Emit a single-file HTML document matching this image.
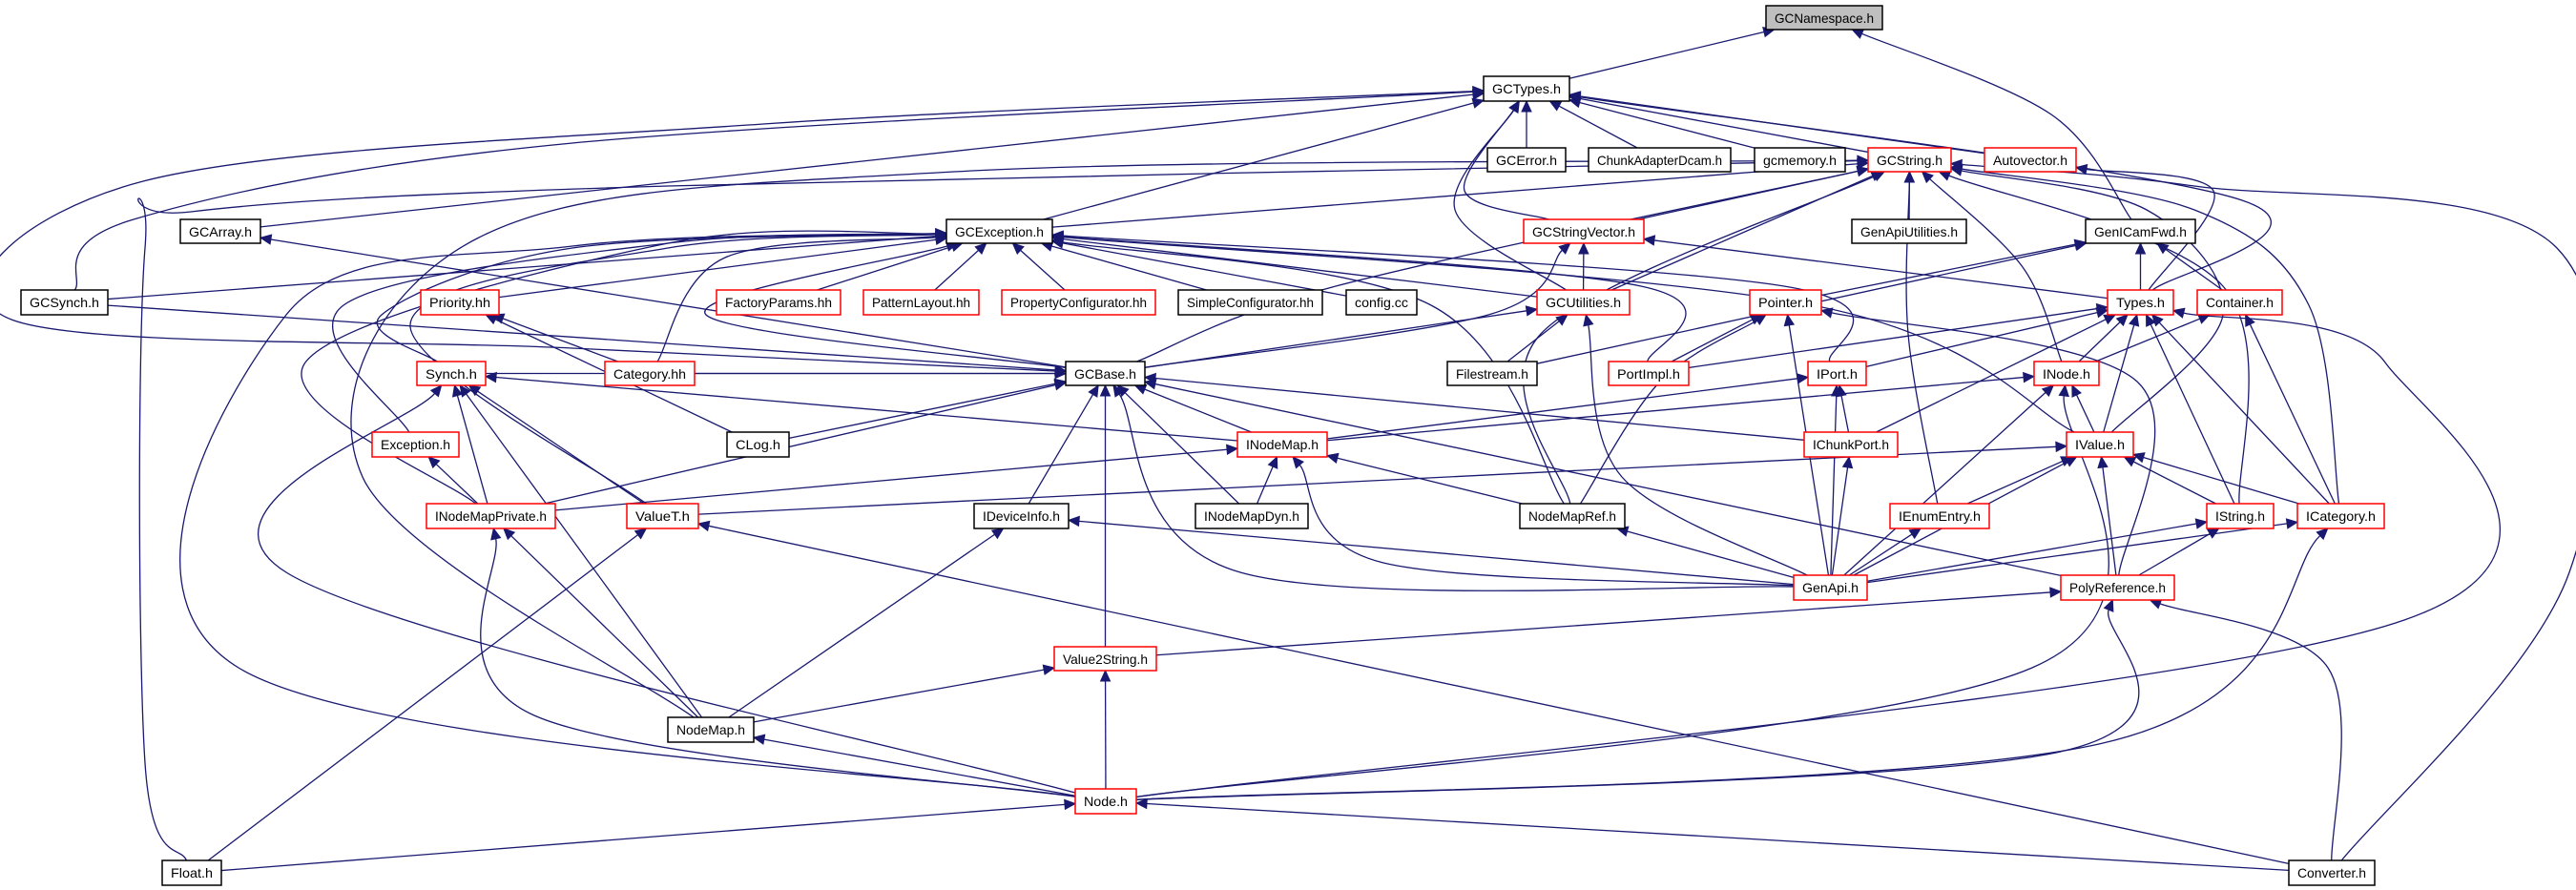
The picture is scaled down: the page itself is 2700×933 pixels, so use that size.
<!DOCTYPE html>
<html><head><meta charset="utf-8"><style>
html,body{margin:0;padding:0;background:#fff;}
svg{display:block;}
text{font-family:"Liberation Sans",sans-serif;font-size:14px;fill:#000;}
</style></head><body>
<svg id="g" width="2700" height="933" viewBox="0 0 2700 933" xmlns="http://www.w3.org/2000/svg">
<g id="edges" fill="none" stroke="#191970" stroke-width="1.3"></g>
<g id="heads" fill="#191970" stroke="#191970"></g>
<g id="nodes" stroke-width="1.5">
<rect x="1851" y="6" width="122" height="25" fill="#bfbfbf" stroke="#000"/><text x="1912" y="24" text-anchor="middle" textLength="104" lengthAdjust="spacingAndGlyphs">GCNamespace.h</text>
<rect x="1555" y="80" width="90" height="26" fill="#fff" stroke="#000"/><text x="1600" y="98" text-anchor="middle" textLength="72" lengthAdjust="spacingAndGlyphs">GCTypes.h</text>
<rect x="1559" y="155" width="82" height="25" fill="#fff" stroke="#000"/><text x="1600" y="173" text-anchor="middle" textLength="64" lengthAdjust="spacingAndGlyphs">GCError.h</text>
<rect x="1665" y="155" width="149" height="25" fill="#fff" stroke="#000"/><text x="1739.5" y="173" text-anchor="middle" textLength="131" lengthAdjust="spacingAndGlyphs">ChunkAdapterDcam.h</text>
<rect x="1839" y="155" width="95" height="25" fill="#fff" stroke="#000"/><text x="1886.5" y="173" text-anchor="middle" textLength="77" lengthAdjust="spacingAndGlyphs">gcmemory.h</text>
<rect x="1958" y="155" width="87" height="25" fill="#fff" stroke="#f00"/><text x="2001.5" y="173" text-anchor="middle" textLength="69" lengthAdjust="spacingAndGlyphs">GCString.h</text>
<rect x="2080" y="155" width="96" height="25" fill="#fff" stroke="#f00"/><text x="2128" y="173" text-anchor="middle" textLength="78" lengthAdjust="spacingAndGlyphs">Autovector.h</text>
<rect x="189" y="230" width="84" height="25" fill="#fff" stroke="#000"/><text x="231" y="248" text-anchor="middle" textLength="66" lengthAdjust="spacingAndGlyphs">GCArray.h</text>
<rect x="992" y="230" width="111" height="25" fill="#fff" stroke="#000"/><text x="1047.5" y="248" text-anchor="middle" textLength="93" lengthAdjust="spacingAndGlyphs">GCException.h</text>
<rect x="1597" y="230" width="126" height="25" fill="#fff" stroke="#f00"/><text x="1660" y="248" text-anchor="middle" textLength="108" lengthAdjust="spacingAndGlyphs">GCStringVector.h</text>
<rect x="1941" y="230" width="120" height="25" fill="#fff" stroke="#000"/><text x="2001" y="248" text-anchor="middle" textLength="102" lengthAdjust="spacingAndGlyphs">GenApiUtilities.h</text>
<rect x="2186" y="230" width="115" height="25" fill="#fff" stroke="#000"/><text x="2243.5" y="248" text-anchor="middle" textLength="97" lengthAdjust="spacingAndGlyphs">GenICamFwd.h</text>
<rect x="22" y="304" width="91" height="26" fill="#fff" stroke="#000"/><text x="67.5" y="322" text-anchor="middle" textLength="73" lengthAdjust="spacingAndGlyphs">GCSynch.h</text>
<rect x="441" y="304" width="82" height="26" fill="#fff" stroke="#f00"/><text x="482" y="322" text-anchor="middle" textLength="64" lengthAdjust="spacingAndGlyphs">Priority.hh</text>
<rect x="751" y="304" width="130" height="26" fill="#fff" stroke="#f00"/><text x="816" y="322" text-anchor="middle" textLength="112" lengthAdjust="spacingAndGlyphs">FactoryParams.hh</text>
<rect x="905" y="304" width="121" height="26" fill="#fff" stroke="#f00"/><text x="965.5" y="322" text-anchor="middle" textLength="103" lengthAdjust="spacingAndGlyphs">PatternLayout.hh</text>
<rect x="1050" y="304" width="161" height="26" fill="#fff" stroke="#f00"/><text x="1130.5" y="322" text-anchor="middle" textLength="143" lengthAdjust="spacingAndGlyphs">PropertyConfigurator.hh</text>
<rect x="1235" y="304" width="151" height="26" fill="#fff" stroke="#000"/><text x="1310.5" y="322" text-anchor="middle" textLength="133" lengthAdjust="spacingAndGlyphs">SimpleConfigurator.hh</text>
<rect x="1411" y="304" width="74" height="26" fill="#fff" stroke="#000"/><text x="1448" y="322" text-anchor="middle" textLength="56" lengthAdjust="spacingAndGlyphs">config.cc</text>
<rect x="1611" y="304" width="97" height="26" fill="#fff" stroke="#f00"/><text x="1659.5" y="322" text-anchor="middle" textLength="79" lengthAdjust="spacingAndGlyphs">GCUtilities.h</text>
<rect x="1834" y="304" width="75" height="26" fill="#fff" stroke="#f00"/><text x="1871.5" y="322" text-anchor="middle" textLength="57" lengthAdjust="spacingAndGlyphs">Pointer.h</text>
<rect x="2209" y="304" width="69" height="26" fill="#fff" stroke="#f00"/><text x="2243.5" y="322" text-anchor="middle" textLength="51" lengthAdjust="spacingAndGlyphs">Types.h</text>
<rect x="2303" y="304" width="89" height="26" fill="#fff" stroke="#f00"/><text x="2347.5" y="322" text-anchor="middle" textLength="71" lengthAdjust="spacingAndGlyphs">Container.h</text>
<rect x="437" y="379" width="72" height="25" fill="#fff" stroke="#f00"/><text x="473" y="397" text-anchor="middle" textLength="54" lengthAdjust="spacingAndGlyphs">Synch.h</text>
<rect x="634" y="379" width="94" height="25" fill="#fff" stroke="#f00"/><text x="681" y="397" text-anchor="middle" textLength="76" lengthAdjust="spacingAndGlyphs">Category.hh</text>
<rect x="1117" y="379" width="83" height="25" fill="#fff" stroke="#000"/><text x="1158.5" y="397" text-anchor="middle" textLength="65" lengthAdjust="spacingAndGlyphs">GCBase.h</text>
<rect x="1517" y="379" width="94" height="25" fill="#fff" stroke="#000"/><text x="1564" y="397" text-anchor="middle" textLength="76" lengthAdjust="spacingAndGlyphs">Filestream.h</text>
<rect x="1686" y="379" width="84" height="25" fill="#fff" stroke="#f00"/><text x="1728" y="397" text-anchor="middle" textLength="66" lengthAdjust="spacingAndGlyphs">PortImpl.h</text>
<rect x="1895" y="379" width="61" height="25" fill="#fff" stroke="#f00"/><text x="1925.5" y="397" text-anchor="middle" textLength="43" lengthAdjust="spacingAndGlyphs">IPort.h</text>
<rect x="2132" y="379" width="68" height="25" fill="#fff" stroke="#f00"/><text x="2166" y="397" text-anchor="middle" textLength="50" lengthAdjust="spacingAndGlyphs">INode.h</text>
<rect x="390" y="453" width="91" height="26" fill="#fff" stroke="#f00"/><text x="435.5" y="471" text-anchor="middle" textLength="73" lengthAdjust="spacingAndGlyphs">Exception.h</text>
<rect x="762" y="453" width="65" height="26" fill="#fff" stroke="#000"/><text x="794.5" y="471" text-anchor="middle" textLength="47" lengthAdjust="spacingAndGlyphs">CLog.h</text>
<rect x="1297" y="453" width="94" height="26" fill="#fff" stroke="#f00"/><text x="1344" y="471" text-anchor="middle" textLength="76" lengthAdjust="spacingAndGlyphs">INodeMap.h</text>
<rect x="1891" y="453" width="98" height="26" fill="#fff" stroke="#f00"/><text x="1940" y="471" text-anchor="middle" textLength="80" lengthAdjust="spacingAndGlyphs">IChunkPort.h</text>
<rect x="2166" y="453" width="70" height="26" fill="#fff" stroke="#f00"/><text x="2201" y="471" text-anchor="middle" textLength="52" lengthAdjust="spacingAndGlyphs">IValue.h</text>
<rect x="447" y="528" width="135" height="26" fill="#fff" stroke="#f00"/><text x="514.5" y="546" text-anchor="middle" textLength="117" lengthAdjust="spacingAndGlyphs">INodeMapPrivate.h</text>
<rect x="657" y="528" width="75" height="26" fill="#fff" stroke="#f00"/><text x="694.5" y="546" text-anchor="middle" textLength="57" lengthAdjust="spacingAndGlyphs">ValueT.h</text>
<rect x="1021" y="528" width="99" height="26" fill="#fff" stroke="#000"/><text x="1070.5" y="546" text-anchor="middle" textLength="81" lengthAdjust="spacingAndGlyphs">IDeviceInfo.h</text>
<rect x="1253" y="528" width="118" height="26" fill="#fff" stroke="#000"/><text x="1312" y="546" text-anchor="middle" textLength="100" lengthAdjust="spacingAndGlyphs">INodeMapDyn.h</text>
<rect x="1593" y="528" width="110" height="26" fill="#fff" stroke="#000"/><text x="1648" y="546" text-anchor="middle" textLength="92" lengthAdjust="spacingAndGlyphs">NodeMapRef.h</text>
<rect x="1981" y="528" width="104" height="26" fill="#fff" stroke="#f00"/><text x="2033" y="546" text-anchor="middle" textLength="86" lengthAdjust="spacingAndGlyphs">IEnumEntry.h</text>
<rect x="2313" y="528" width="70" height="26" fill="#fff" stroke="#f00"/><text x="2348" y="546" text-anchor="middle" textLength="52" lengthAdjust="spacingAndGlyphs">IString.h</text>
<rect x="2408" y="528" width="91" height="26" fill="#fff" stroke="#f00"/><text x="2453.5" y="546" text-anchor="middle" textLength="73" lengthAdjust="spacingAndGlyphs">ICategory.h</text>
<rect x="1880" y="603" width="77" height="26" fill="#fff" stroke="#f00"/><text x="1918.5" y="621" text-anchor="middle" textLength="59" lengthAdjust="spacingAndGlyphs">GenApi.h</text>
<rect x="2160" y="603" width="119" height="26" fill="#fff" stroke="#f00"/><text x="2219.5" y="621" text-anchor="middle" textLength="101" lengthAdjust="spacingAndGlyphs">PolyReference.h</text>
<rect x="1105" y="678" width="107" height="25" fill="#fff" stroke="#f00"/><text x="1158.5" y="696" text-anchor="middle" textLength="89" lengthAdjust="spacingAndGlyphs">Value2String.h</text>
<rect x="700" y="752" width="90" height="26" fill="#fff" stroke="#000"/><text x="745" y="770" text-anchor="middle" textLength="72" lengthAdjust="spacingAndGlyphs">NodeMap.h</text>
<rect x="1127" y="827" width="64" height="26" fill="#fff" stroke="#f00"/><text x="1159" y="845" text-anchor="middle" textLength="46" lengthAdjust="spacingAndGlyphs">Node.h</text>
<rect x="170" y="902" width="62" height="26" fill="#fff" stroke="#000"/><text x="201" y="920" text-anchor="middle" textLength="44" lengthAdjust="spacingAndGlyphs">Float.h</text>
<rect x="2399" y="902" width="90" height="26" fill="#fff" stroke="#000"/><text x="2444" y="920" text-anchor="middle" textLength="72" lengthAdjust="spacingAndGlyphs">Converter.h</text>
</g>
</svg>
<script>
var N={GCNamespace:[1851,6,1973,31],GCTypes:[1555,80,1645,106],GCError:[1559,155,1641,180],Chunk:[1665,155,1814,180],gcmemory:[1839,155,1934,180],GCString:[1958,155,2045,180],Autovector:[2080,155,2176,180],GCArray:[189,230,273,255],GCException:[992,230,1103,255],GCStringVector:[1597,230,1723,255],GenApiUtilities:[1941,230,2061,255],GenICamFwd:[2186,230,2301,255],GCSynch:[22,304,113,330],Priority:[441,304,523,330],FactoryParams:[751,304,881,330],PatternLayout:[905,304,1026,330],PropertyConfigurator:[1050,304,1211,330],SimpleConfigurator:[1235,304,1386,330],config:[1411,304,1485,330],GCUtilities:[1611,304,1708,330],Pointer:[1834,304,1909,330],Types:[2209,304,2278,330],Container:[2303,304,2392,330],Synch:[437,379,509,404],Category:[634,379,728,404],GCBase:[1117,379,1200,404],Filestream:[1517,379,1611,404],PortImpl:[1686,379,1770,404],IPort:[1895,379,1956,404],INode:[2132,379,2200,404],Exception:[390,453,481,479],CLog:[762,453,827,479],INodeMap:[1297,453,1391,479],IChunkPort:[1891,453,1989,479],IValue:[2166,453,2236,479],INodeMapPrivate:[447,528,582,554],ValueT:[657,528,732,554],IDeviceInfo:[1021,528,1120,554],INodeMapDyn:[1253,528,1371,554],NodeMapRef:[1593,528,1703,554],IEnumEntry:[1981,528,2085,554],IString:[2313,528,2383,554],ICategory:[2408,528,2499,554],GenApi:[1880,603,1957,629],PolyReference:[2160,603,2279,629],Value2String:[1105,678,1212,703],NodeMap:[700,752,790,778],Node:[1127,827,1191,853],Float:[170,902,232,928],Converter:[2399,902,2489,928]};
var E=[
["GCTypes","GCNamespace"],["GenICamFwd","GCNamespace",[[2150,120]]],
["GCError","GCTypes"],["Chunk","GCTypes"],["gcmemory","GCTypes"],["GCString","GCTypes"],["Autovector","GCTypes"],["GCException","GCTypes"],
["GCStringVector","GCTypes",[[1535,200]]],["GCUtilities","GCTypes",[[1525,220]]],["GCArray","GCTypes"],["GCSynch","GCTypes",[[140,230],[600,150]]],
["GCBase","GCTypes",[[600,365],[12,335],[150,190],[800,130]]],["Types","GCTypes",[[2350,210]]],
["Float","GCString",[[152,800],[152,260],[200,222],[700,195]]],["NodeMap","GCString",[[380,500],[500,250],[1000,180]]],
["GenApiUtilities","GCString"],["GCException","GCString"],["GCStringVector","GCString"],["GCUtilities","GCString"],["NodeMapRef","GCString",[[1615,350]]],["IEnumEntry","GCString",[[2000,350]]],["INode","GCString",[[2120,280]]],["IString","GCString",[[2330,300]]],["ICategory","GCString",[[2420,320],[2300,220]]],["IValue","GCString",[[2330,330],[2250,220]]],["Converter","GCString",[[2693,600],[2680,260],[2300,195]]],["GCBase","GCString",[[1400,300]]],
["Types","GCStringVector"],["GCUtilities","GCStringVector"],["GCBase","GCStringVector",[[1560,330]]],["GCBase","GCArray"],
["GCSynch","GCException"],["Priority","GCException"],["FactoryParams","GCException"],["PatternLayout","GCException"],["PropertyConfigurator","GCException"],["SimpleConfigurator","GCException"],["config","GCException"],["GCUtilities","GCException"],["PortImpl","GCException",[[1720,300]]],["NodeMapRef","GCException",[[1500,320]]],["IValue","GCException",[[1900,320]]],["IPort","GCException",[[1870,300]]],["Category","GCException",[[760,270]]],["Synch","GCException",[[400,330],[600,260]]],["Exception","GCException",[[360,320],[700,255]]],["ValueT","GCException",[[430,340],[700,260]]],["Node","GCException",[[250,700],[300,330],[600,258]]],["INodeMapPrivate","GCException",[[320,380],[700,255]]],["GCBase","GCException",[[740,330]]],
["Category","Priority"],["CLog","Priority"],["ValueT","Synch"],["INodeMapPrivate","Synch"],["NodeMap","Synch"],["Node","Synch",[[300,600]]],["INodeMap","Synch"],["INodeMapPrivate","Exception"],
["Filestream","GCUtilities"],["GCBase","GCUtilities"],["GenApi","GCUtilities",[[1700,500]]],["Filestream","GenICamFwd"],["Pointer","GenICamFwd"],["Types","GenICamFwd"],["Container","GenICamFwd"],["Types","Autovector",[[2320,200]]],
["PortImpl","Pointer"],["NodeMapRef","Pointer",[[1740,400]]],["GenApi","Pointer"],["PolyReference","Pointer",[[2240,400]]],
["IPort","Types"],["INode","Types"],["IValue","Types"],["IString","Types"],["ICategory","Types"],["IChunkPort","Types"],["PortImpl","Types"],["Node","Types",[[2520,650],[2500,380]]],
["INode","Container"],["ICategory","Container"],
["CLog","GCBase"],["INodeMap","GCBase"],["IDeviceInfo","GCBase"],["INodeMapDyn","GCBase"],["GenApi","GCBase",[[1300,600]]],["Value2String","GCBase"],["IChunkPort","GCBase"],["PolyReference","GCBase"],["INodeMapPrivate","GCBase"],["Synch","GCBase"],["Category","GCBase"],["GCSynch","GCBase"],
["INodeMap","IPort"],["INodeMap","INode"],["IChunkPort","IPort"],["GenApi","IPort"],["IValue","INode"],["GenApi","INode"],["Node","INode",[[2130,700]]],
["INodeMapDyn","INodeMap"],["NodeMapRef","INodeMap"],["GenApi","INodeMap",[[1450,590]]],["INodeMapPrivate","INodeMap"],["GenApi","IChunkPort"],
["IEnumEntry","IValue"],["IString","IValue"],["ICategory","IValue"],["GenApi","IValue"],["PolyReference","IValue"],["ValueT","IValue"],
["GenApi","IEnumEntry"],["GenApi","IString"],["GenApi","ICategory"],["GenApi","NodeMapRef"],["GenApi","IDeviceInfo"],["PolyReference","IString"],
["Value2String","PolyReference"],["Node","PolyReference",[[2150,790]]],["Converter","PolyReference",[[2440,700]]],["Node","ICategory",[[2200,780]]],
["NodeMap","IDeviceInfo"],["NodeMap","Value2String"],["Node","Value2String"],["Node","NodeMap"],["NodeMap","INodeMapPrivate"],["Node","INodeMapPrivate",[[560,750]]],
["Float","ValueT"],["Converter","ValueT"],["Float","Node"],["Converter","Node"]
];
function ctr(b){return[(b[0]+b[2])/2,(b[1]+b[3])/2];}
function clip(b,p,q){var c=ctr(b),dx=q[0]-c[0],dy=q[1]-c[1],hw=(b[2]-b[0])/2,hh=(b[3]-b[1])/2;var t=Math.min(dx?hw/Math.abs(dx):1e9,dy?hh/Math.abs(dy):1e9);if(t>1)t=1;return[c[0]+dx*t,c[1]+dy*t];}
var ns="http://www.w3.org/2000/svg",eg=document.getElementById("edges"),hg=document.getElementById("heads");
E.forEach(function(e){var s=N[e[0]],t=N[e[1]],v=e[2]||[];var sc=ctr(s),tc=ctr(t);
var p0=clip(s,sc,v.length?v[0]:tc),pe=clip(t,tc,v.length?v[v.length-1]:sc);
var ux=pe[0]-(v.length?v[v.length-1][0]:p0[0]),uy=pe[1]-(v.length?v[v.length-1][1]:p0[1]);var L=Math.hypot(ux,uy)||1;ux/=L;uy/=L;
var tip=pe,base=[pe[0]-ux*11,pe[1]-uy*11];
var pts=[p0].concat(v).concat([base]);var d="M"+pts[0][0]+","+pts[0][1];
if(pts.length==2){d+=" L"+base[0]+","+base[1];}else{for(var i=0;i<pts.length-1;i++){var a=pts[Math.max(i-1,0)],b=pts[i],c=pts[i+1],dd=pts[Math.min(i+2,pts.length-1)];
d+=" C"+(b[0]+(c[0]-a[0])/6)+","+(b[1]+(c[1]-a[1])/6)+" "+(c[0]-(dd[0]-b[0])/6)+","+(c[1]-(dd[1]-b[1])/6)+" "+c[0]+","+c[1];}}
var p=document.createElementNS(ns,"path");p.setAttribute("d",d);eg.appendChild(p);
var h=document.createElementNS(ns,"polygon");var px=-uy*5,py=ux*5;
h.setAttribute("points",tip[0]+","+tip[1]+" "+(base[0]+px)+","+(base[1]+py)+" "+(base[0]-px)+","+(base[1]-py));hg.appendChild(h);});
</script>
</body></html>
